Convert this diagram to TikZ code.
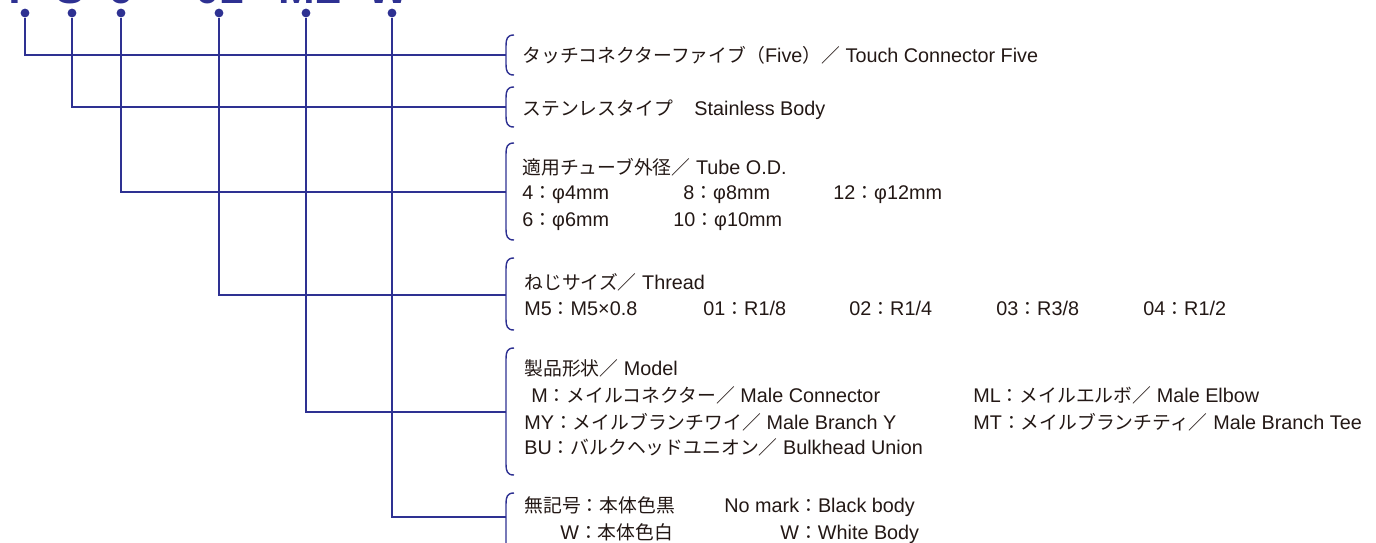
\documentclass[tikz,border=0pt]{standalone}
\usepackage{fontspec}
\setmainfont{Liberation Sans}
\newfontfamily\jp[Scale=0.95]{Noto Sans CJK JP}
\usetikzlibrary{positioning}
\definecolor{navy}{HTML}{2E3192}
\definecolor{ink}{HTML}{231815}
\tikzset{
  tapdot/.style={circle,fill=navy,inner sep=0pt,minimum size=4.4pt},
  lead/.style={draw=navy,line width=0.7pt},
  entry/.style={anchor=base west,inner sep=0pt,text=ink,
                font=\fontsize{9.9}{11}\selectfont},
  codechar/.style={anchor=base,inner sep=0pt,text=navy,
                   font=\fontsize{22}{22}\selectfont\bfseries}
}
\begin{document}
\begin{tikzpicture}[x=0.5pt,y=-0.5pt]
  \useasboundingbox (0,0) rectangle (1376,542);
  \begin{scope}
    \clip (0,0) rectangle (1376,542);
    % model code, cut off at the top edge
    \node[codechar] (cT)  at (15,3)  {T};
    \node[codechar] (cS)  at (70,3)  {S};
    \node[codechar] (c6)  at (121,3) {6};
    \node[codechar] (c01) at (220,3) {01};
    \node[codechar] (cML) at (310,3) {ML};
    \node[codechar] (cW)  at (388,3) {W};

    % brackets on the right
    \foreach \ya/\yb/\ym [count=\i] in {35/75/55,87/127/107,143/240/192,
                                        258/330/295,348/475/412,493/556/517} {
      \draw[lead] (514,\ya) .. controls (507,\ya) and (506,\ya+4) .. (506,\ya+11)
        -- (506,\yb-11) .. controls (506,\yb-4) and (507,\yb) .. (514,\yb);
      \coordinate (b\i) at (506,\ym);
    }

    % dots under the code and leaders
    \foreach \x [count=\i] in {25,72,121,219,306,392}
      \node[tapdot] (d\i) at (\x,13) {};
    \foreach \i in {1,...,6}
      \draw[lead] (d\i) |- (b\i);
  \end{scope}

  % series
  \node[entry] (five) at (522,62)
    {{\jp タッチコネクターファイブ（}Five{\jp ）／} Touch Connector Five};

  % body
  \node[entry] (stainless)   at (522,115) {\jp ステンレスタイプ};
  \node[entry] (stainlessen) at (694,115) {Stainless Body};

  % tube O.D.
  \node[entry] (tubehd) at (522,174) {{\jp 適用チューブ外径／} Tube O.D.};
  \node[entry] (tube4)  at (522,199) {4{\jp ：}φ4mm};
  \node[entry] (tube8)  at (683,199) {8{\jp ：}φ8mm};
  \node[entry] (tube12) at (833,199) {12{\jp ：}φ12mm};
  \node[entry] (tube6)  at (522,226) {6{\jp ：}φ6mm};
  \node[entry] (tube10) at (673,226) {10{\jp ：}φ10mm};

  % thread
  \node[entry] (threadhd) at (524,289) {{\jp ねじサイズ／} Thread};
  \node[entry] (thrM5) at (524,315)  {M5{\jp ：}M5×0.8};
  \node[entry] (thr01) at (703,315)  {01{\jp ：}R1/8};
  \node[entry] (thr02) at (849,315)  {02{\jp ：}R1/4};
  \node[entry] (thr03) at (996,315)  {03{\jp ：}R3/8};
  \node[entry] (thr04) at (1143,315) {04{\jp ：}R1/2};

  % model
  \node[entry] (modelhd) at (524,375) {{\jp 製品形状／} Model};
  \node[entry] (modM)  at (531,402) {M{\jp ：メイルコネクター／} Male Connector};
  \node[entry] (modML) at (973,402) {ML{\jp ：メイルエルボ／} Male Elbow};
  \node[entry] (modMY) at (524,429) {MY{\jp ：メイルブランチワイ／} Male Branch Y};
  \node[entry] (modMT) at (973,429) {MT{\jp ：メイルブランチティ／} Male Branch Tee};
  \node[entry] (modBU) at (524,454) {BU{\jp ：バルクヘッドユニオン／} Bulkhead Union};

  % body colour
  \node[entry] (colblk)  at (524,512) {\jp 無記号：本体色黒};
  \node[entry] (colno)   at (724,512) {No mark{\jp ：}Black body};
  \node[entry] (colwht)  at (560,539) {W{\jp ：本体色白}};
  \node[entry] (colwen)  at (780,539) {W{\jp ：}White Body};
\end{tikzpicture}
\end{document}
